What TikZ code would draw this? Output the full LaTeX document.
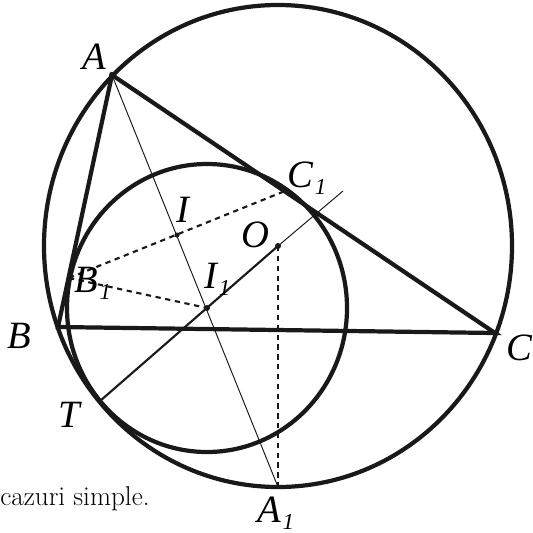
\documentclass[tikz,border=0pt]{standalone}
\usepackage{fontspec}
\newfontfamily\lblfont{Liberation Serif}
\usetikzlibrary{positioning}
\newcommand{\lblsub}[2]{#1\kern1pt\raisebox{-4pt}{\fontsize{13}{13}\selectfont #2}}

\begin{document}
\begin{tikzpicture}[
    x=0.02cm, y=0.02cm,
    heavy/.style={line width=2.4pt, draw=black!90},
    medium/.style={line width=1.2pt, draw=black!90},
    slim/.style={line width=0.55pt, draw=black!90},
    dotted line/.style={line width=1.2pt, draw=black!90, dash pattern=on 3pt off 2.6pt},
    dot/.style={fill=black!90},
    lbl/.style={anchor=base west, inner sep=0pt,
      font=\lblfont\itshape\fontsize{22}{22}\selectfont},
  ]
    \useasboundingbox (0,0) rectangle (533,532);
    \coordinate (A) at (112,457);
    \coordinate (B) at (58,205);
    \coordinate (C) at (495,199);
    \coordinate (O) at (278,286);
    \coordinate (A1) at (278,45);
    \coordinate (I1) at (207,224);
    \coordinate (I) at (177,297);
    \coordinate (B1) at (69,254);
    \coordinate (C1) at (285,341);
    \coordinate (T) at (100,131);
    \coordinate (E) at (343,341);
    \draw[heavy] (O) ellipse [x radius=234, y radius=241];
    \draw[heavy] (I1) ellipse [x radius=140, y radius=144];
    \draw[heavy] (A) -- (B) -- (C) -- cycle;
    \draw[slim] (A) -- (A1);
    \draw[medium] (T) -- (O);
    \draw[slim] (O) -- (E);
    \draw[dotted line] (B1) -- (C1);
    \draw[dotted line] (B1) -- (I1);
    \draw[dotted line] (O) -- (A1);
    \fill[dot] (A) circle (3);
    \fill[dot] (O) circle (3);
    \fill[dot] (I) circle (2.5);
    \fill[dot] (I1) circle (3);
    \node[lbl] (lA) at (82,463) {A};
    \node[lbl] (lB) at (7,184) {B};
    \node[lbl] (lC) at (506,172) {C};
    \node[lbl] (lT) at (58,105) {T};
    \node[lbl] (lI) at (176,310) {I};
    \node[lbl] (lO) at (241,285) {O};
    \node[lbl] (lI1) at (204,244) {\lblsub{I}{1}};
    \node[lbl] (lC1) at (287,345) {\lblsub{C}{1}};
    \node[lbl] (lB1) at (74,240) {\lblsub{B}{1}};
    \node[lbl] (lA1) at (257,10) {\lblsub{A}{1}};
    \node[anchor=base east, inner sep=0pt, font=\fontsize{15.5}{18}\selectfont]
      (note) at (150,27) {cazuri simple.};
  \end{tikzpicture}
\end{document}
